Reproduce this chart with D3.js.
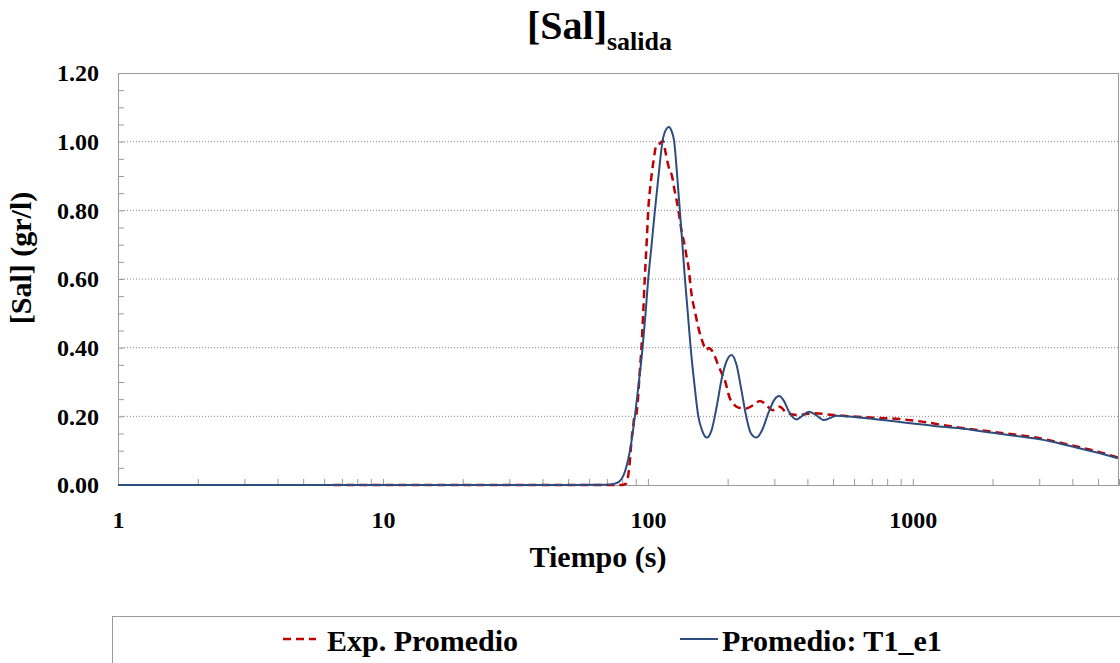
<!DOCTYPE html>
<html>
<head>
<meta charset="utf-8">
<script src="https://cdn.jsdelivr.net/npm/d3@7"></script>
<style>
  html, body { margin: 0; padding: 0; background: #fff; }
  svg { display: block; }
  text { font-family: "Liberation Serif", Tinos, "Times New Roman", Times, "DejaVu Serif", serif; font-weight: bold; fill: #000; }
</style>
</head>
<body>
<svg id="chart" width="1120" height="663"></svg>
<script>
// ---------------- data ----------------
const seriesNames = ["Exp. Promedio", "Promedio: T1_e1"];

// Experimental average (red dashed)
const expTime = [6.5, 80, 83, 85, 87, 88, 89, 90, 91, 93, 94.6, 96, 97.4, 99, 100.3, 102.5, 104.7, 107.8, 111, 114, 116.5, 119.3, 121, 123, 126, 130, 134, 138, 140, 142, 146, 151, 157, 162, 166, 170, 175, 180, 184, 190, 195, 204, 210, 216, 225, 235, 250, 265, 280, 295, 315, 335, 370, 420, 500, 668, 893, 1000, 1504, 2000, 3016, 4000, 5000, 5940];
const expValue = [0, 0, 0.005, 0.05, 0.14, 0.17, 0.2, 0.2, 0.22, 0.32, 0.403, 0.5, 0.607, 0.71, 0.80, 0.88, 0.937, 0.99, 0.995, 1.003, 0.97, 0.932, 0.915, 0.903, 0.86, 0.806, 0.74, 0.694, 0.665, 0.64, 0.558, 0.5, 0.442, 0.41, 0.393, 0.399, 0.39, 0.37, 0.35, 0.325, 0.306, 0.252, 0.237, 0.228, 0.224, 0.223, 0.233, 0.245, 0.233, 0.218, 0.228, 0.209, 0.204, 0.209, 0.204, 0.197, 0.192, 0.188, 0.167, 0.155, 0.136, 0.115, 0.097, 0.080];

// Simulation (blue solid)
const simTime = [1, 50, 70, 75, 78, 82, 86, 89.3, 92.5, 95.5, 98, 100.3, 103.3, 106.3, 110, 113.5, 117, 120, 123, 125.7, 129, 132, 135, 138, 141.5, 145, 150, 155, 160, 167, 174, 182, 190, 198, 207, 216, 225, 235, 245, 257, 270, 285, 300, 313, 326, 340, 364, 385, 406, 430, 462, 490, 515, 600, 700, 893, 1000, 1200, 1504, 2000, 2500, 3016, 4000, 5000, 5940];
const simValue = [0, 0, 0.001, 0.004, 0.01, 0.04, 0.11, 0.2, 0.3, 0.4, 0.5, 0.6, 0.7, 0.8, 0.91, 1.0, 1.035, 1.043, 1.03, 1.0, 0.9, 0.8, 0.7, 0.6, 0.5, 0.4, 0.29, 0.2, 0.16, 0.138, 0.16, 0.23, 0.31, 0.36, 0.379, 0.35, 0.28, 0.2, 0.15, 0.138, 0.16, 0.21, 0.248, 0.259, 0.245, 0.215, 0.191, 0.203, 0.2136, 0.204, 0.189, 0.196, 0.202, 0.198, 0.193, 0.1835, 0.179, 0.172, 0.165, 0.152, 0.142, 0.133, 0.112, 0.094, 0.078];

const xMajorTicks = [1, 10, 100, 1000];
const xTickLabels = ["1", "10", "100", "1000"];
const yMajorTicks = [0, 0.2, 0.4, 0.6, 0.8, 1.0, 1.2];
const yTickLabels = ["0.00", "0.20", "0.40", "0.60", "0.80", "1.00", "1.20"];

// ---------------- layout ----------------
const FONT = '"Liberation Serif", Tinos, "Times New Roman", Times, "DejaVu Serif", serif';
const svg = d3.select("#chart");
const L = 118, T = 73, R = 1119, B = 485;

const x = d3.scaleLog().domain([1, 6000]).range([L, R]);
const y = d3.scaleLinear().domain([0, 1.2]).range([B, T]);

const xMinor = [];
for (let d = 1; d <= 1000; d *= 10) for (let k = 2; k <= 9; k++) if (d * k <= 6000) xMinor.push(d * k);
const yMinor = d3.range(0, 1.2001, 0.05).map(v => +v.toFixed(2));

svg.append("g").selectAll("line")
  .data(yMajorTicks.filter(v => v > 0 && v < 1.2))
  .join("line")
  .attr("x1", L).attr("x2", R)
  .attr("y1", d => y(d)).attr("y2", d => y(d))
  .attr("stroke", "#8a8a8a").attr("stroke-width", 1)
  .attr("stroke-dasharray", "1,2");

svg.append("line").attr("x1", L).attr("x2", R).attr("y1", T + 0.5).attr("y2", T + 0.5).attr("stroke", "#9a9a9a");
svg.append("line").attr("x1", R - 0.5).attr("x2", R - 0.5).attr("y1", T).attr("y2", B).attr("stroke", "#9a9a9a");

const xAxis = d3.axisBottom(x)
  .tickValues(xMajorTicks.concat(xMinor))
  .tickSize(-6)
  .tickPadding(26)
  .tickFormat(d => {
    const i = xMajorTicks.indexOf(d);
    return i >= 0 ? xTickLabels[i] : "";
  });
const gx = svg.append("g").attr("transform", `translate(0,${B})`).call(xAxis);
gx.attr("font-family", null).attr("font-size", null);
gx.select(".domain").attr("stroke", "#9a9a9a");
gx.selectAll(".tick line").attr("stroke", "#9a9a9a");
gx.selectAll(".tick text").style("font-size", "24px").style("font-family", FONT).style("font-weight", "bold").attr("fill", "#000");

const yAxis = d3.axisLeft(y)
  .tickValues(yMinor)
  .tickSize(-6)
  .tickPadding(19)
  .tickFormat(d => {
    const i = yMajorTicks.findIndex(v => Math.abs(v - d) < 1e-6);
    return i >= 0 ? yTickLabels[i] : "";
  });
const gy = svg.append("g").attr("transform", `translate(${L},0)`).call(yAxis);
gy.attr("font-family", null).attr("font-size", null);
gy.select(".domain").attr("stroke", "#9a9a9a");
gy.selectAll(".tick line").attr("stroke", "#9a9a9a");
gy.selectAll(".tick text").style("font-size", "24px").style("font-family", FONT).style("font-weight", "bold").attr("fill", "#000");

const line = d3.line().x(d => x(d[0])).y(d => y(d[1])).curve(d3.curveMonotoneX);
const expData = expTime.map((t, i) => [t, expValue[i]]);
const simData = simTime.map((t, i) => [t, simValue[i]]);

svg.append("path").datum(expData)
  .attr("d", line).attr("fill", "none")
  .attr("stroke", "#C00000").attr("stroke-width", 2.5)
  .attr("stroke-dasharray", "8,5");

svg.append("path").datum(simData)
  .attr("d", line).attr("fill", "none")
  .attr("stroke", "#2C4D7E").attr("stroke-width", 2);

const title = svg.append("text").attr("x", 527).attr("y", 39).style("font-size", "40px");
title.append("tspan").text("[Sal]");
title.append("tspan").attr("dy", 11).style("font-size", "26px").text("salida");

svg.append("text").attr("x", 598).attr("y", 567).attr("text-anchor", "middle")
  .style("font-size", "30px").text("Tiempo (s)");
svg.append("text").attr("transform", "translate(31,258) rotate(-90)").attr("text-anchor", "middle")
  .style("font-size", "30px").text("[Sal] (gr/l)");

svg.append("rect").attr("x", 112.5).attr("y", 616.5).attr("width", 1100).attr("height", 100)
  .attr("fill", "none").attr("stroke", "#9a9a9a");
svg.append("line").attr("x1", 283).attr("x2", 316).attr("y1", 639).attr("y2", 639)
  .attr("stroke", "#C00000").attr("stroke-width", 2.5).attr("stroke-dasharray", "8,5");
svg.append("text").attr("x", 327).attr("y", 651).style("font-size", "30px").text(seriesNames[0]);
svg.append("line").attr("x1", 680).attr("x2", 718).attr("y1", 639).attr("y2", 639)
  .attr("stroke", "#2C4D7E").attr("stroke-width", 2);
svg.append("text").attr("x", 722).attr("y", 651).style("font-size", "30px").text(seriesNames[1]);
</script>
</body>
</html>
